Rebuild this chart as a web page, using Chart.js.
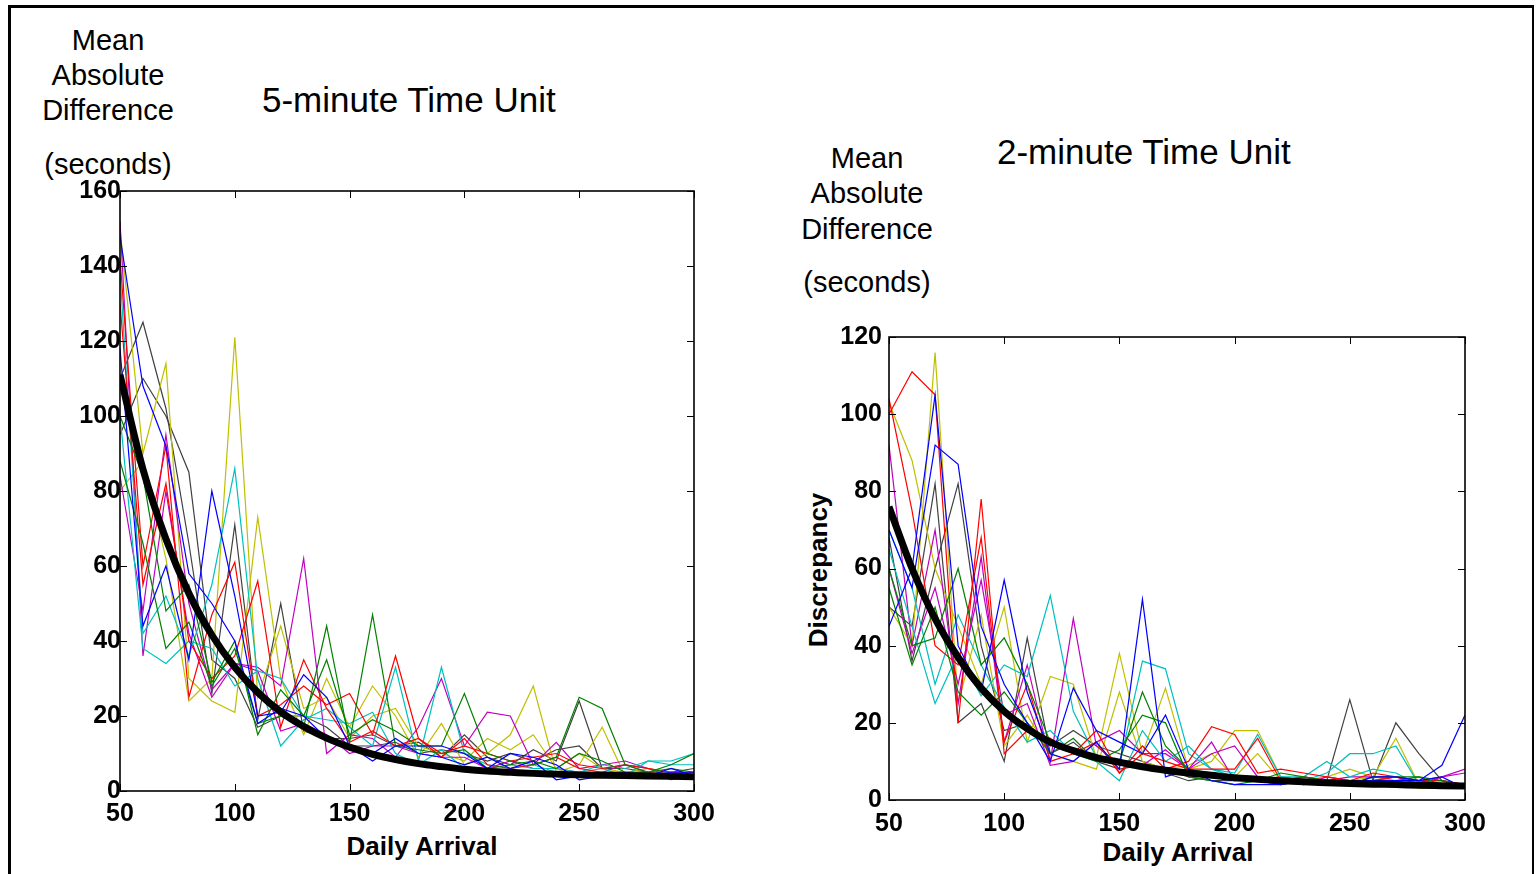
<!DOCTYPE html>
<html>
<head>
<meta charset="utf-8">
<script src="https://cdn.jsdelivr.net/npm/chart.js@4/dist/chart.umd.min.js"></script>
<style>
  body { margin: 0; background: #fff; font-family: "Liberation Sans", Arial, sans-serif; }
  #frame { position: absolute; left: 8px; top: 5px; width: 1526px; height: 870px;
           border-left: 3px solid #000; border-top: 3px solid #000; border-right: 2px solid #000;
           border-bottom: 1px solid #999; box-sizing: border-box; }
  .lbl { position: absolute; white-space: nowrap; color: #000; line-height: 1; }
  .ylab { font-size: 29px; text-align: center; width: 200px; }
  .ttl { font-size: 35px; }
  .xt { font-size: 26px; font-weight: bold; text-align: center; width: 300px; }
  canvas { position: absolute; }
</style>
</head>
<body>
<div id="frame"></div>

<div class="lbl ylab" style="left:8px; top:26px;">Mean</div>
<div class="lbl ylab" style="left:8px; top:61px;">Absolute</div>
<div class="lbl ylab" style="left:8px; top:96px;">Difference</div>
<div class="lbl ylab" style="left:8px; top:150px;">(seconds)</div>
<div class="lbl ttl" style="left:262px; top:82px;">5-minute Time Unit</div>
<div class="lbl xt" style="left:272px; top:833px;">Daily Arrival</div>

<div class="lbl ylab" style="left:767px; top:144px;">Mean</div>
<div class="lbl ylab" style="left:767px; top:179px;">Absolute</div>
<div class="lbl ylab" style="left:767px; top:215px;">Difference</div>
<div class="lbl ylab" style="left:767px; top:268px;">(seconds)</div>
<div class="lbl ttl" style="left:997px; top:134px;">2-minute Time Unit</div>
<div class="lbl xt" style="left:1028px; top:839px;">Daily Arrival</div>
<div class="lbl xt" style="left:668px; top:557px; transform: rotate(-90deg);">Discrepancy</div>

<canvas id="c5" width="700" height="690" style="left:30px; top:170px;"></canvas>
<canvas id="c2" width="720" height="560" style="left:800px; top:310px;"></canvas>

<script>
// daily arrival values on the x axis
const arrivals = [50,60,70,80,90,100,110,120,130,140,150,160,170,180,190,200,210,220,230,240,250,260,270,280,290,300];

// line colours (matlab defaults), two runs per colour
const runColors = ['#0000ff','#0000ff','#008000','#008000','#ff0000','#ff0000','#00bfbf','#00bfbf',
                   '#bf00bf','#bf00bf','#bfbf00','#bfbf00','#404040','#404040'];

// 5-minute time unit: simulated runs
const runs5 = [
  [148,108,92,58,50,40,18,22,20,14,11,10,14,10,9,7,9,6,8,3,4,5,5,4,6,4],
  [118,44,60,35,80,52,20,21,31,25,12,8,12,12,12,10,6,10,9,7,3,4,4,4,5,5],
  [100,84,48,55,29,40,15,27,20,35,15,19,16,12,12,26,10,8,7,9,25,22,7,5,7,10],
  [88,66,38,45,28,38,18,20,17,44,13,47,12,11,10,11,6,7,8,6,10,8,5,5,6,5],
  [142,60,92,25,47,61,20,23,28,23,26,15,36,14,10,12,10,8,9,10,7,6,7,6,5,5],
  [130,55,82,40,30,36,56,17,35,22,13,16,12,14,9,14,7,6,7,9,6,5,5,5,4,4],
  [138,42,52,36,55,86,30,12,19,22,17,12,33,8,33,10,7,6,7,5,5,7,6,8,8,10],
  [100,38,34,40,38,28,32,30,20,19,18,21,10,7,11,6,6,7,6,6,5,6,4,8,7,7],
  [152,36,80,42,25,34,33,28,62,10,15,14,9,17,30,12,21,20,7,13,6,7,8,6,4,5],
  [84,48,95,50,27,34,32,16,18,15,10,12,12,10,9,9,6,8,6,6,5,5,7,5,3,4],
  [150,90,114,30,24,21,73,30,15,30,17,28,20,9,18,7,10,15,28,5,7,17,4,5,4,3],
  [80,88,62,24,30,121,25,44,22,25,14,20,22,12,10,8,14,11,15,6,10,6,5,6,5,5],
  [110,125,102,66,26,71,19,50,16,14,14,15,12,13,9,15,9,7,11,8,24,6,7,6,5,6],
  [95,110,100,85,35,30,17,20,20,17,12,12,13,10,11,10,8,10,8,11,12,6,6,5,5,4]
];
// 5-minute fitted curve (thick black)
const fit5 = [111,85.8,67.2,52.7,41.6,33,26.3,21.1,17.2,14.1,11.7,9.8,8.4,7.3,6.5,5.8,5.3,5.0,4.7,4.5,4.3,4.2,4.1,4.0,3.9,3.8];

// 2-minute time unit: simulated runs
const runs2 = [
  [45,60,105,40,28,57,28,12,10,15,8,52,6,8,5,4,4,4,5,4,4,6,6,5,9,22],
  [70,55,92,87,45,30,20,10,29,18,15,12,22,8,6,5,6,5,4,5,5,5,5,5,6,3],
  [60,40,42,60,35,42,30,15,12,10,10,28,14,8,7,6,5,7,6,5,4,6,6,6,5,3],
  [55,35,50,28,22,28,20,12,16,10,13,22,20,6,5,4,5,4,5,5,4,4,5,6,4,3],
  [100,111,105,20,78,12,18,16,12,15,7,14,8,10,19,17,7,8,7,6,5,7,6,5,4,3],
  [104,75,40,35,68,15,30,10,12,18,7,12,10,8,8,8,16,5,6,5,4,5,6,5,5,4],
  [65,45,25,38,27,35,32,53,23,11,9,36,34,12,8,7,17,6,5,7,12,12,14,4,4,3],
  [70,55,30,48,35,24,15,18,12,10,5,18,10,14,8,6,5,6,6,10,6,8,7,4,4,4],
  [92,40,70,25,63,15,35,10,47,14,9,9,13,8,15,5,5,4,5,5,6,6,6,4,6,8],
  [60,38,55,30,57,22,25,9,10,15,18,12,12,8,12,14,6,5,4,6,5,5,6,5,6,7],
  [103,88,60,45,30,50,15,32,30,11,38,12,29,8,10,18,18,6,5,6,5,6,16,4,3,3],
  [50,40,116,25,48,14,22,12,10,8,28,10,8,9,12,6,12,5,5,6,8,6,5,3,3,3],
  [50,45,82,20,25,10,42,12,15,10,8,9,7,5,6,5,5,6,5,5,26,5,20,12,5,4],
  [68,36,60,82,40,18,20,14,18,14,12,10,8,6,5,5,6,5,6,5,5,5,5,5,5,4]
];
// 2-minute fitted curve
const fit2 = [76,60,47,37,29,23,18.5,15,12.8,11,9.8,8.6,7.7,7.0,6.4,5.8,5.4,5.0,4.7,4.5,4.3,4.1,4.0,3.8,3.7,3.6];

// inward ticks on all four sides + box, like matlab axes
const boxTicks = {
  id: 'boxTicks',
  afterDraw(chart) {
    const { ctx, chartArea: a, scales } = chart;
    ctx.save();
    ctx.strokeStyle = '#000';
    ctx.lineWidth = 1;
    const len = 7;
    ctx.beginPath();
    scales.x.ticks.forEach(t => {
      const px = Math.round(scales.x.getPixelForValue(t.value)) + 0.5;
      ctx.moveTo(px, a.bottom); ctx.lineTo(px, a.bottom - len);
      ctx.moveTo(px, a.top); ctx.lineTo(px, a.top + len);
    });
    scales.y.ticks.forEach(t => {
      const py = Math.round(scales.y.getPixelForValue(t.value)) + 0.5;
      ctx.moveTo(a.left, py); ctx.lineTo(a.left + len, py);
      ctx.moveTo(a.right, py); ctx.lineTo(a.right - len, py);
    });
    ctx.stroke();
    ctx.lineWidth = 1.6;
    ctx.strokeRect(a.left, a.top, a.right - a.left, a.bottom - a.top);
    ctx.restore();
  }
};

function makeChart(id, runs, fit, yMax, yAxisW, xAxisH, pad, yPad, xPad) {
  const datasets = [{
    data: arrivals.map((x, i) => ({ x: x, y: fit[i] })),
    borderColor: '#000', borderWidth: 7, cubicInterpolationMode: 'monotone',
    pointRadius: 0
  }];
  runs.forEach((r, k) => {
    datasets.push({
      data: arrivals.map((x, i) => ({ x: x, y: r[i] })),
      borderColor: runColors[k], borderWidth: 1.2, tension: 0, pointRadius: 0
    });
  });
  const tickFont = { family: '"Liberation Sans", Arial, sans-serif', size: 25, weight: 'bold' };
  return new Chart(document.getElementById(id), {
    type: 'line',
    data: { datasets: datasets },
    plugins: [boxTicks],
    options: {
      responsive: false,
      animation: false,
      layout: { padding: pad },
      plugins: { legend: { display: false }, tooltip: { enabled: false } },
      scales: {
        x: {
          type: 'linear', min: 50, max: 300,
          ticks: { stepSize: 50, color: '#000', font: tickFont, padding: xPad, maxRotation: 0 },
          grid: { display: false, drawTicks: false },
          border: { display: false },
          afterFit(s) { s.height = xAxisH; }
        },
        y: {
          min: 0, max: yMax,
          ticks: { stepSize: 20, color: '#000', font: tickFont, padding: yPad },
          grid: { display: false, drawTicks: false },
          border: { display: false },
          afterFit(s) { s.width = yAxisW; }
        }
      }
    }
  });
}

makeChart('c5', runs5, fit5, 160, 90, 69, { top: 21, right: 36, left: 0, bottom: 0 }, -1, 8);
makeChart('c2', runs2, fit2, 120, 89, 70, { top: 27, right: 55, left: 0, bottom: 0 }, 7, 9);
</script>
</body>
</html>
